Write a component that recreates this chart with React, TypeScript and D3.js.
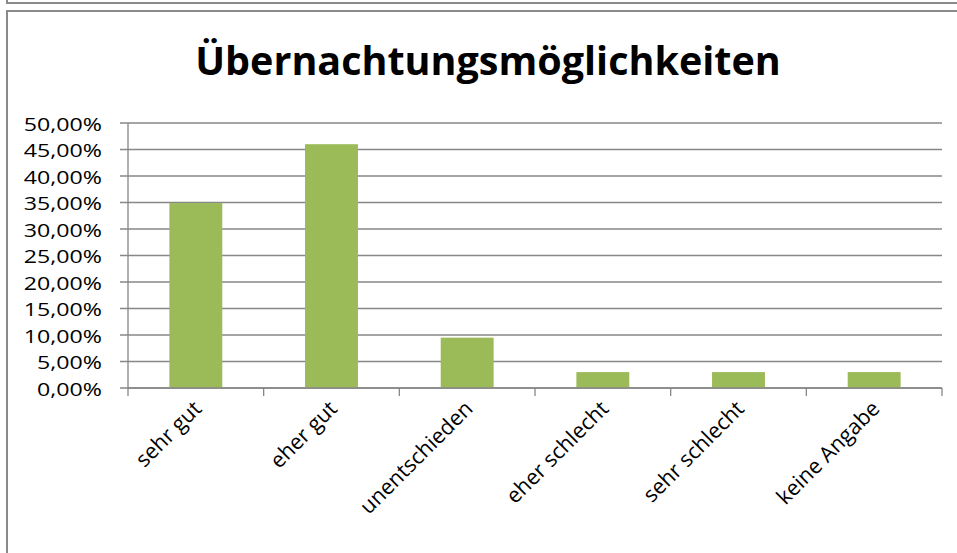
import React from "react";
import * as d3 from "d3";

const categories = ["sehr gut", "eher gut", "unentschieden", "eher schlecht", "sehr schlecht", "keine Angabe"];
const values = [34.9, 46.0, 9.5, 3.0, 3.0, 3.0];
const yTicks = [0, 5, 10, 15, 20, 25, 30, 35, 40, 45, 50];
const title = "Übernachtungsmöglichkeiten";

const W = 957;
const H = 553;
const plot = { left: 128, right: 942, top: 123, bottom: 388 };

export default function App() {
  const x = d3
    .scaleBand<string>()
    .domain(categories)
    .range([plot.left, plot.right])
    .paddingInner(0.61)
    .paddingOuter(0.305);
  const y = d3.scaleLinear().domain([0, 50]).range([plot.bottom, plot.top]);
  const step = x.step();
  const fmt = (v: number) => v.toFixed(2).replace(".", ",") + "%";
  const font = "'Open Sans', 'Noto Sans', sans-serif";
  const grid = "#878787";
  const labelWidth = (s: string) => {
    const digits = s.replace(/[^0-9]/g, "").length;
    return digits * 13.3 + 25;
  };

  const boundaries = d3.range(categories.length + 1).map((i) => plot.left + i * step);

  return (
    <div style={{ position: "fixed", left: 0, top: 0, width: W, height: H, background: "#fff" }}>
      <svg width={W} height={H} style={{ display: "block" }}>
        <rect x={0} y={0} width={W} height={H} fill="#fff" />
        <path d={`M7,0 V3 H${W}`} fill="none" stroke="#8a8a8a" strokeWidth={2} />
        <path d={`M7,${H} V11 H${W}`} fill="none" stroke="#8a8a8a" strokeWidth={2} />

        <text
          x={488}
          y={75}
          textAnchor="middle"
          fontFamily={font}
          fontWeight="bold"
          fontSize={39.5}
          fill="#000"
        >
          {title}
        </text>

        {yTicks.map((t) => (
          <line key={"g" + t} x1={plot.left - 8} x2={plot.right} y1={y(t)} y2={y(t)} stroke={grid} strokeWidth={1.3} />
        ))}
        <line x1={plot.left} x2={plot.left} y1={plot.top} y2={plot.bottom} stroke={grid} strokeWidth={1.3} />

        {categories.map((c, i) => (
          <rect key={c} x={x(c)} y={y(values[i])} width={x.bandwidth()} height={y(0) - y(values[i])} fill="#9BBB59" />
        ))}

        <line x1={plot.left} x2={plot.right} y1={plot.bottom} y2={plot.bottom} stroke={grid} strokeWidth={1.3} />
        {boundaries.map((bx, i) => (
          <line key={"t" + i} x1={bx} x2={bx} y1={plot.bottom} y2={plot.bottom + 8} stroke={grid} strokeWidth={1.3} />
        ))}

        {yTicks.map((t) => {
          const s = fmt(t);
          const w = labelWidth(s);
          return (
            <text
              key={"yl" + t}
              x={102 - w}
              y={y(t) + 7.5}
              textLength={w}
              lengthAdjust="spacingAndGlyphs"
              fontFamily={font}
              fontSize={19}
              fill="#000"
            >
              {s}
            </text>
          );
        })}

        {categories.map((c) => {
          const cx = (x(c) as number) + x.bandwidth() / 2 + 7;
          const cy = plot.bottom + 22;
          return (
            <text
              key={"xl" + c}
              transform={`translate(${cx},${cy}) rotate(-45)`}
              textAnchor="end"
              fontFamily={font}
              fontSize={21.5}
              fill="#000"
            >
              {c}
            </text>
          );
        })}
      </svg>
    </div>
  );
}
